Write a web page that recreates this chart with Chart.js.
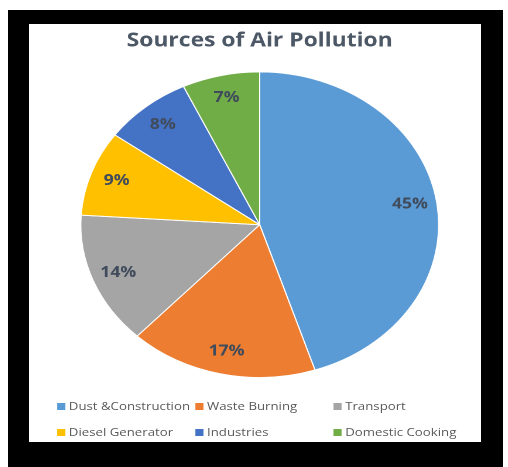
<!DOCTYPE html>
<html>
<head>
<meta charset="utf-8">
<script src="https://cdn.jsdelivr.net/npm/chart.js@4/dist/chart.umd.min.js"></script>
<style>
  html, body { margin: 0; padding: 0; background: #fff; }
  #frame { position: absolute; left: 8px; top: 10px; width: 495px; height: 457px; background: #000; }
  #panel { position: absolute; left: 29px; top: 24px; width: 452px; height: 418px; background: #fff; overflow: hidden; }
  /* the original picture is stretched sideways, so draw narrow and stretch */
  #wrap { position: absolute; left: 0; top: 0; width: 386px; height: 418px; transform: scaleX(1.171); transform-origin: 0 0; }
  #legend { position: absolute; left: 24px; top: 369px; width: 362px; font-family: "Open Sans", sans-serif; font-size: 11.3px; color: #595959; }
  .row { height: 26px; line-height: 26px; white-space: nowrap; }
  .item { display: inline-block; width: 118px; }
  .box { display: inline-block; width: 7px; height: 7px; margin-right: 3px; vertical-align: 0px; }
</style>
</head>
<body>
<div id="frame"></div>
<div id="panel">
  <div id="wrap">
    <canvas id="myChart" width="386" height="370"></canvas>
    <div id="legend"></div>
  </div>
</div>
<script>
var labels = ['Dust &Construction', 'Waste Burning', 'Transport', 'Diesel Generator', 'Industries', 'Domestic Cooking'];
var values = [45, 17, 14, 9, 8, 7];
var colors = ['#5B9BD5', '#ED7D31', '#A5A5A5', '#FFC000', '#4472C4', '#70AD47'];

// percent labels inside each slice
var sliceLabels = {
    id: 'sliceLabels',
    afterDatasetsDraw: function (chart) {
        var ctx = chart.ctx;
        var total = values.reduce(function (a, b) { return a + b; }, 0);
        chart.getDatasetMeta(0).data.forEach(function (arc, i) {
            var mid = (arc.startAngle + arc.endAngle) / 2;
            var r = arc.outerRadius * 0.85;
            var x = arc.x + Math.cos(mid) * r;
            var y = arc.y + Math.sin(mid) * r;
            ctx.save();
            ctx.font = 'bold 15px "Open Sans", sans-serif';
            ctx.fillStyle = '#404b5c';
            ctx.textAlign = 'center';
            ctx.textBaseline = 'middle';
            ctx.fillText(Math.round(values[i] / total * 100) + '%', x, y);
            ctx.restore();
        });
    }
};

var ctx = document.getElementById('myChart').getContext('2d');
var chart = new Chart(ctx, {
    type: 'pie',
    data: {
        labels: labels,
        datasets: [{
            data: values,
            backgroundColor: colors,
            borderColor: '#ffffff',
            borderWidth: 1
        }]
    },
    options: {
        responsive: false,
        animation: false,
        devicePixelRatio: 2,
        layout: { padding: { left: 8, right: 0, top: 0, bottom: 16 } },
        plugins: {
            title: {
                display: true,
                text: 'Sources of Air Pollution',
                color: '#4d5866',
                font: { family: '"Open Sans", sans-serif', size: 19.5, weight: 'bold' },
                padding: { top: 5, bottom: 19 }
            },
            legend: { display: false },
            tooltip: { enabled: false }
        }
    },
    plugins: [sliceLabels]
});

// legend laid out in three columns like the original
var legend = document.getElementById('legend');
for (var r = 0; r < 2; r++) {
    var row = document.createElement('div');
    row.className = 'row';
    for (var c = 0; c < 3; c++) {
        var i = r * 3 + c;
        var item = document.createElement('span');
        item.className = 'item';
        item.innerHTML = '<span class="box" style="background:' + colors[i] + '"></span>' + labels[i];
        row.appendChild(item);
    }
    legend.appendChild(row);
}
</script>
</body>
</html>
